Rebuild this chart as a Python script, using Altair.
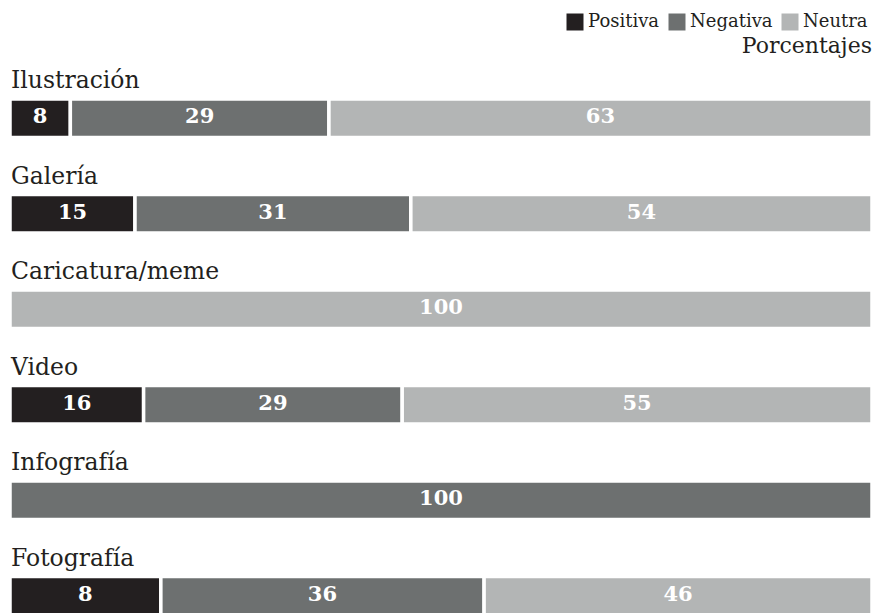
import altair as alt
import pandas as pd

categories = ["Ilustración", "Galería", "Caricatura/meme", "Video", "Infografía", "Fotografía"]
sentiments = ["Positiva", "Negativa", "Neutra"]
colors = ["#231f20", "#6d7070", "#b3b5b5"]

# bar lengths (percent) as drawn in the picture
positiva = [7, 14.5, 0, 15.5, 0, 17.5]
negativa = [30, 32, 0, 30, 100, 37.5]
neutra = [63, 53.5, 100, 54.5, 0, 45]

# labels as printed on the bars
positiva_labels = ["8", "15", "", "16", "", "8"]
negativa_labels = ["29", "31", "", "29", "100", "36"]
neutra_labels = ["63", "54", "100", "55", "", "46"]

rows = []
series = [(positiva, positiva_labels), (negativa, negativa_labels), (neutra, neutra_labels)]
for i, cat in enumerate(categories):
    for j, (vals, labs) in enumerate(series):
        rows.append({"cat": cat, "sent": sentiments[j], "ord": j, "value": vals[i], "label": labs[i]})
df = pd.DataFrame(rows)
cat_df = pd.DataFrame({"cat": categories})

FONT = "DejaVu Serif"
DARK = "#231f20"

x_scale = alt.Scale(domain=[0, 100], nice=False, zero=True)
y_scale = alt.Scale(paddingInner=0.5964, paddingOuter=0)

stacked = (
    alt.Chart(df)
    .transform_filter("datum.value > 0")
    .transform_stack(stack="value", groupby=["cat"], as_=["x0", "x1"],
                     sort=[alt.SortField("ord", order="ascending")])
    .transform_calculate(mid="(datum.x0 + datum.x1) / 2")
)

bars = stacked.mark_bar(stroke="white", strokeWidth=3.5).encode(
    x=alt.X("x0:Q", scale=x_scale, axis=None),
    x2="x1:Q",
    y=alt.Y("cat:N", scale=y_scale, sort=categories, axis=None),
    color=alt.Color(
        "sent:N",
        scale=alt.Scale(domain=sentiments, range=colors),
        legend=alt.Legend(
            title=None, orient="none", legendX=556, legendY=-86,
            direction="horizontal", columns=3,
            symbolType="square", symbolSize=289, symbolStrokeWidth=0,
            labelFont=FONT, labelFontSize=18, labelColor=DARK,
            labelOffset=4, columnPadding=8, padding=0,
        ),
    ),
)

value_text = stacked.mark_text(
    font=FONT, fontSize=21, fontWeight="bold", color="white",
    baseline="alphabetic", dy=5,
).encode(
    x=alt.X("mid:Q", scale=x_scale),
    y=alt.Y("cat:N", scale=y_scale, sort=categories),
    text="label:N",
)

cat_text = alt.Chart(cat_df).mark_text(
    font=FONT, fontSize=23.5, align="left", baseline="alphabetic",
    dy=-30, dx=1, color=DARK,
).encode(
    x=alt.datum(0),
    y=alt.Y("cat:N", scale=y_scale, sort=categories),
    text="cat:N",
)

chart = (
    alt.layer(bars, value_text, cat_text)
    .properties(
        width=862,
        height=516,
        title=alt.TitleParams(
            "Porcentajes", anchor="end", frame="group", font=FONT,
            fontSize=22, fontWeight="normal", color=DARK, offset=-62,
            baseline="alphabetic",
        ),
        padding={"left": 2, "top": 91, "right": 2, "bottom": 0},
        autosize=alt.AutoSizeParams(type="none"),
    )
    .configure_view(stroke=None)
)

chart.save("out.html", embed_options={"renderer": "svg", "actions": False})
